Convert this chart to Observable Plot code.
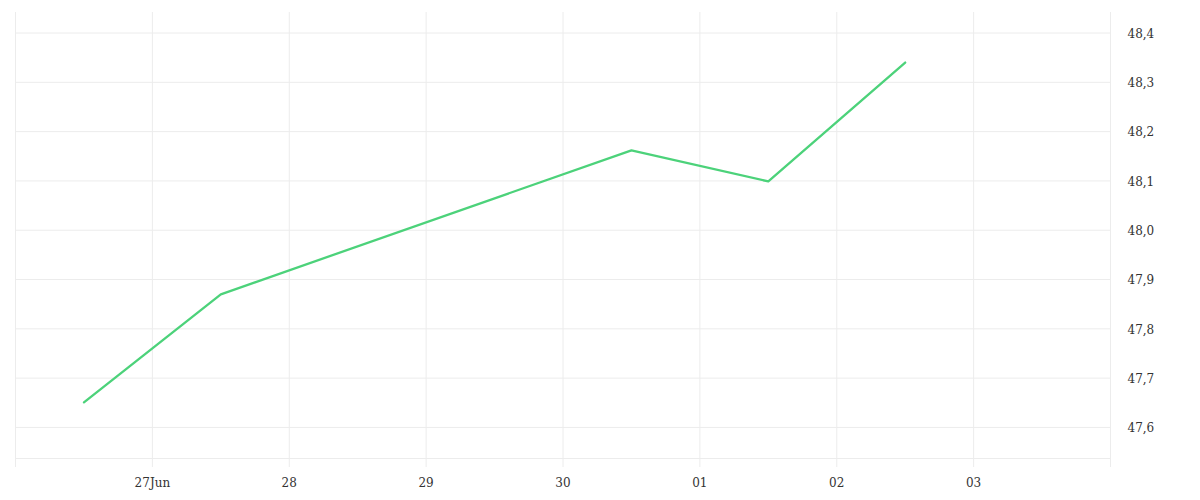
<!DOCTYPE html>
<html>
<head>
<meta charset="utf-8">
<script src="https://cdn.jsdelivr.net/npm/d3@7"></script>
<script src="https://cdn.jsdelivr.net/npm/@observablehq/plot@0.6"></script>
<style>
  html, body { margin: 0; padding: 0; background: #fff; }
  #chart svg { display: block; }
</style>
</head>
<body>
<div id="chart"></div>
<script>
// Data
const dates = ["2021-06-26T12:00Z", "2021-06-27T12:00Z", "2021-06-30T12:00Z", "2021-07-01T12:00Z", "2021-07-02T12:00Z"];
const values = [47.651, 47.870, 48.162, 48.099, 48.340];

const xTickDates = ["2021-06-26", "2021-06-27", "2021-06-28", "2021-06-29", "2021-06-30", "2021-07-01", "2021-07-02", "2021-07-03", "2021-07-04"];
const xTickLabels = ["", "27Jun", "28", "29", "30", "01", "02", "03", ""];
const yTicks = [47.6, 47.7, 47.8, 47.9, 48.0, 48.1, 48.2, 48.3, 48.4];

const xDomain = ["2021-06-26", "2021-07-04"];
const yDomain = [47.537, 48.4416];

const data = dates.map((d, i) => ({date: new Date(d), value: values[i]}));
const xTicks = xTickDates.map(d => new Date(d));
const labelMap = new Map(xTicks.map((d, i) => [+d, xTickLabels[i]]));

const grid = "#ececec";

const chart = Plot.plot({
  width: 1200,
  height: 500,
  marginLeft: 15,
  marginRight: 90,
  marginTop: 12,
  marginBottom: 42,
  style: {fontFamily: "'DejaVu Serif', serif", fontSize: "12px", color: "#333", background: "#fff"},
  x: {type: "utc", domain: xDomain.map(d => new Date(d))},
  y: {domain: yDomain},
  marks: [
    Plot.gridY({ticks: yTicks, stroke: grid, strokeOpacity: 1}),
    Plot.gridX({ticks: xTicks, stroke: grid, strokeOpacity: 1}),
    Plot.ruleY([yDomain[0]], {stroke: grid, strokeOpacity: 1}),
    Plot.axisX({ticks: xTicks, tickSize: 9, tickPadding: 11, stroke: grid, strokeOpacity: 1,
      tickFormat: d => labelMap.get(+d) ?? ""}),
    Plot.axisY({anchor: "right", ticks: yTicks, tickSize: 0, tickPadding: 17, label: null, dy: 1,
      tickFormat: d => d.toFixed(1).replace(".", ",")}),
    Plot.line(data, {x: "date", y: "value", stroke: "#4cd27a", strokeWidth: 2.3})
  ]
});
document.getElementById("chart").appendChild(chart);
</script>
</body>
</html>
